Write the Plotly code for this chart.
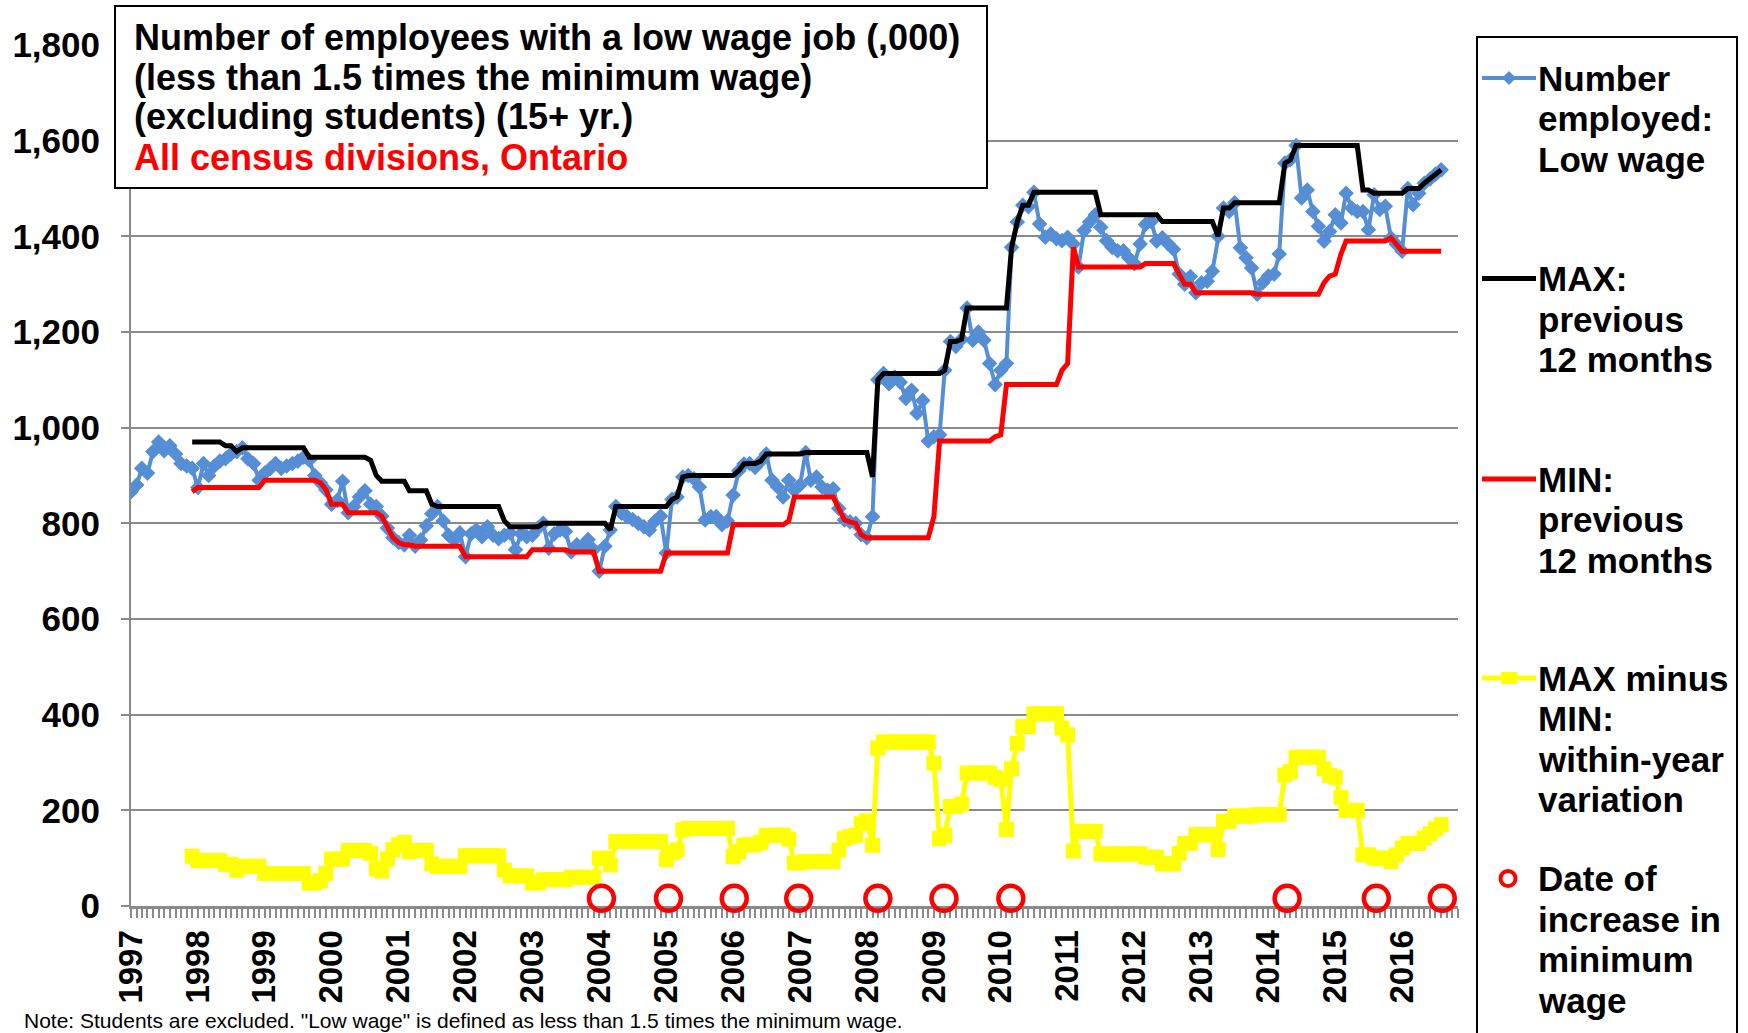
import pandas as pd
import plotly.graph_objects as go

# ---------------- data (monthly, Jan 1997 .. Aug 2016), thousands ----------------
low_wage = [
    866, 880, 915, 905, 950, 970, 952, 962, 945, 925, 920, 915,            # 1997
    875, 925, 900, 920, 930, 935, 945, 950, 958, 935, 925, 890,            # 1998
    905, 915, 925, 915, 920, 925, 930, 938, 932, 900, 885, 870,            # 1999
    840, 848, 888, 822, 835, 855, 868, 840, 835, 815, 790, 770,            # 2000
    760, 755, 775, 752, 765, 795, 820, 835, 805, 775, 765, 780,            # 2001
    730, 778, 786, 772, 793, 775, 768, 775, 780, 745, 778, 772,            # 2002
    775, 790, 800, 748, 778, 786, 783, 740, 755, 752, 766, 745,            # 2003
    700, 752, 786, 835, 821, 814, 808, 800, 793, 786, 805, 815,            # 2004
    738, 850, 855, 897, 900, 893, 876, 807, 814, 814, 797, 805,            # 2005
    859, 910, 924, 925, 917, 930, 945, 890, 876, 855, 890, 869,            # 2006
    880, 948, 890, 897, 876, 869, 872, 831, 807, 803, 800, 776,            # 2007
    770, 814, 1100, 1113, 1092, 1106, 1095, 1061, 1078, 1030, 1057, 972,   # 2008
    981, 985, 1120, 1180, 1170, 1185, 1250, 1183, 1200, 1183, 1134, 1090,  # 2009
    1120, 1134, 1377, 1430, 1465, 1462, 1492, 1426, 1398, 1405, 1395, 1391,  # 2010
    1398, 1384, 1336, 1412, 1430, 1445, 1419, 1391, 1377, 1370, 1370, 1355,  # 2011
    1343, 1384, 1425, 1431, 1390, 1397, 1385, 1373, 1321, 1300, 1316, 1282,  # 2012
    1303, 1306, 1327, 1400, 1459, 1452, 1470, 1376, 1355, 1334, 1279, 1303,  # 2013
    1317, 1321, 1363, 1553, 1560, 1590, 1480, 1497, 1452, 1421, 1390, 1410,  # 2014
    1445, 1428, 1490, 1459, 1452, 1452, 1414, 1487, 1456, 1463, 1397, 1383,  # 2015
    1369, 1500, 1466, 1490, 1511, 1520, 1530, 1539,                          # 2016
]

max_prev_12 = (
    [None] * 11 + [970]                                                     # 1997
    + [970, 970, 970, 970, 970, 962, 962, 950, 958, 958, 958, 958]          # 1998
    + [958] * 8 + [938] * 4                                                 # 1999
    + [938] * 7 + [932, 900, 888, 888, 888]                                 # 2000
    + [888, 888, 868, 868, 868, 868, 840] + [835] * 5                       # 2001
    + [835] * 7 + [805] + [793] * 4                                         # 2002
    + [793, 793] + [800] * 10                                               # 2003
    + [800, 800, 786] + [835] * 9                                           # 2004
    + [835, 850, 855, 897] + [900] * 8                                      # 2005
    + [900, 910, 924, 925, 925, 930] + [945] * 6                            # 2006
    + [945] + [948] * 11                                                    # 2007
    + [948, 897, 1100] + [1113] * 9                                         # 2008
    + [1113, 1113, 1120, 1180, 1180, 1185] + [1250] * 6                     # 2009
    + [1250, 1250, 1377, 1430, 1465, 1465] + [1492] * 6                     # 2010
    + [1492] * 6 + [1445] * 6                                               # 2011
    + [1445] * 5 + [1431] * 7                                               # 2012
    + [1431] * 3 + [1400, 1459, 1459] + [1470] * 6                          # 2013
    + [1470] * 3 + [1553, 1560] + [1590] * 7                                # 2014
    + [1590] * 5 + [1497, 1497] + [1490] * 5                                # 2015
    + [1490, 1500, 1500, 1500, 1511, 1520, 1530, 1539]                      # 2016
)

min_prev_12 = (
    [None] * 11 + [866]                                                     # 1997
    + [875] * 12                                                            # 1998
    + [890] * 10 + [885, 870]                                               # 1999
    + [840] * 3 + [822] * 6 + [815, 790, 770]                               # 2000
    + [760, 755, 755] + [752] * 9                                           # 2001
    + [730] * 12                                                            # 2002
    + [745] * 7 + [740] * 5                                                 # 2003
    + [700] * 12                                                            # 2004
    + [738] * 12                                                            # 2005
    + [797] * 10 + [805, 855]                                               # 2006
    + [855] * 7 + [831, 807, 803, 800, 776]                                 # 2007
    + [770] * 12                                                            # 2008
    + [814] + [972] * 10 + [981]                                            # 2009
    + [985] + [1090] * 10 + [1120]                                          # 2010
    + [1134, 1377] + [1336] * 10                                            # 2011
    + [1336, 1336] + [1343] * 6 + [1321, 1300, 1300, 1282]                  # 2012
    + [1282] * 10 + [1279, 1279]                                            # 2013
    + [1279] * 10 + [1303, 1317]                                            # 2014
    + [1321, 1363] + [1390] * 8 + [1397, 1383]                              # 2015
    + [1369] * 8                                                            # 2016
)

max_minus_min = (
    [None] * 11 + [104]                                                     # 1997
    + [95] * 5 + [87, 87, 75] + [83] * 4                                    # 1998
    + [68] * 8 + [48, 48, 53, 68]                                           # 1999
    + [98] * 3 + [116] * 4 + [110, 78, 73, 98, 118]                         # 2000
    + [128, 133, 113, 116, 116, 116, 88] + [83] * 5                         # 2001
    + [105] * 7 + [75] + [63] * 4                                           # 2002
    + [48, 48] + [55] * 5 + [60] * 5                                        # 2003
    + [100, 100, 86] + [135] * 9                                            # 2004
    + [97, 112, 117, 159] + [162] * 8                                       # 2005
    + [103, 113, 127, 128, 128, 133] + [148] * 4 + [140, 90]                # 2006
    + [90] + [93] * 6 + [117, 141, 145, 148, 172]                           # 2007
    + [178, 127, 330] + [343] * 9                                           # 2008
    + [299, 141, 148, 208, 208, 213] + [278] * 5 + [269]                    # 2009
    + [265, 160, 287, 340, 375, 375] + [402] * 5 + [372]                    # 2010
    + [358, 115] + [156] * 4 + [109] * 6                                    # 2011
    + [109, 109] + [102] * 3 + [88] * 3 + [110, 131, 131, 149]              # 2012
    + [149] * 3 + [118, 177, 177] + [188] * 4 + [191, 191]                  # 2013
    + [191] * 3 + [274, 281] + [311] * 5 + [287, 273]                       # 2014
    + [269, 227, 200, 200, 200, 107, 107, 100, 100, 100, 93, 107]           # 2015
    + [121, 131, 131, 131, 142, 151, 161, 170]                              # 2016
)

# dates of minimum-wage increases (as placed on the chart) and marker level
wage_increase_dates = ["2004-01-13", "2005-01-13", "2006-01-07", "2006-12-25",
                       "2008-03-01", "2009-02-25", "2010-02-25", "2014-04-13",
                       "2015-08-13", "2016-08-07"]
wage_increase_level = [16, 16, 16, 16, 16, 16, 16, 16, 16, 16]

assert len(low_wage) == len(max_prev_12) == len(min_prev_12) == len(max_minus_min) == 236

months = pd.date_range("1997-01-01", periods=len(low_wage), freq="MS")

series_names = ["Number employed: Low wage", "MAX: previous 12 months",
                "MIN: previous 12 months", "MAX minus MIN: within-year variation",
                "Date of increase in minimum wage"]

title_lines = ["Number of employees with a low wage job (,000)",
               "(less than 1.5 times the minimum wage)",
               "(excluding students) (15+ yr.)",
               "All census divisions, Ontario"]

legend_lines = [["Number", "employed:", "Low wage"],
                ["MAX:", "previous", "12 months"],
                ["MIN:", "previous", "12 months"],
                ["MAX minus", "MIN:", "within-year", "variation"],
                ["Date of", "increase in", "minimum", "wage"]]

note_text = 'Note: Students are excluded. "Low wage" is defined as less than 1.5 times the minimum wage.'

# ---------------- styling ----------------
BLUE = "#558ED5"
RED = "#FF0000"
YELLOW = "#FFFF00"
GRID = "#8A8A8A"
FONT = "Liberation Sans"

W, H = 1748, 1033
L, R, T, B = 131, 1458, 45, 906   # plot area in pixels


def fx(p):
    return (p - L) / (R - L)


def fy(p):
    return (B - p) / (B - T)


fig = go.Figure()
fig.add_trace(go.Scatter(x=months, y=low_wage, name=series_names[0], mode="lines+markers",
                         line=dict(color=BLUE, width=4),
                         marker=dict(symbol="diamond", size=12, color=BLUE)))
fig.add_trace(go.Scatter(x=months, y=max_prev_12, name=series_names[1], mode="lines",
                         line=dict(color="black", width=5)))
fig.add_trace(go.Scatter(x=months, y=min_prev_12, name=series_names[2], mode="lines",
                         line=dict(color=RED, width=5)))
fig.add_trace(go.Scatter(x=months, y=max_minus_min, name=series_names[3], mode="lines+markers",
                         line=dict(color=YELLOW, width=5),
                         marker=dict(symbol="square", size=15, color=YELLOW)))
fig.add_trace(go.Scatter(x=wage_increase_dates, y=wage_increase_level, name=series_names[4],
                         mode="markers", cliponaxis=False,
                         marker=dict(symbol="circle-open", size=25, color=RED,
                                     line=dict(color=RED, width=4.5))))

shapes = []
annotations = []

# title box
shapes.append(dict(type="rect", xref="paper", yref="paper", layer="above",
                   x0=fx(115), x1=fx(987), y0=fy(188), y1=fy(6),
                   line=dict(color="black", width=2), fillcolor="white"))
title_y = [37, 77, 117, 157]
for i, (txt, yc) in enumerate(zip(title_lines, title_y)):
    annotations.append(dict(text=txt, xref="paper", yref="paper", x=fx(132), y=fy(yc),
                            xanchor="left", yanchor="middle", showarrow=False,
                            font=dict(family=FONT, size=36, weight="bold",
                                      color=RED if i == 3 else "black")))

# legend box
shapes.append(dict(type="rect", xref="paper", yref="paper", layer="above",
                   x0=fx(1477), x1=fx(1737), y0=fy(1070), y1=fy(37),
                   line=dict(color="black", width=2), fillcolor="white"))
entry_top = [78, 278.5, 479, 678, 878.5]
line_gap = 40.5
sample_colors = [BLUE, "black", RED, YELLOW]
sample_widths = [4, 5, 5, 5]
for k in range(4):
    yc = entry_top[k]
    shapes.append(dict(type="line", xref="paper", yref="paper", layer="above",
                       x0=fx(1482), x1=fx(1536), y0=fy(yc), y1=fy(yc),
                       line=dict(color=sample_colors[k], width=sample_widths[k])))
# diamond marker in legend
shapes.append(dict(type="path", xref="paper", yref="paper", layer="above",
                   xsizemode="pixel", ysizemode="pixel", xanchor=fx(1509), yanchor=fy(entry_top[0]),
                   path="M-7,0L0,7L7,0L0,-7Z", fillcolor=BLUE, line=dict(width=0)))
# square marker in legend
shapes.append(dict(type="rect", xref="paper", yref="paper", layer="above",
                   xsizemode="pixel", ysizemode="pixel", xanchor=fx(1509), yanchor=fy(entry_top[3]),
                   x0=-8, x1=8, y0=-6, y1=6, fillcolor=YELLOW, line=dict(width=0)))
# open circle in legend
shapes.append(dict(type="circle", xref="paper", yref="paper", layer="above",
                   xsizemode="pixel", ysizemode="pixel", xanchor=fx(1508), yanchor=fy(entry_top[4]),
                   x0=-7.5, x1=7.5, y0=-7.5, y1=7.5, line=dict(color=RED, width=4)))
for k, lines in enumerate(legend_lines):
    for j, txt in enumerate(lines):
        annotations.append(dict(text=txt, xref="paper", yref="paper", x=fx(1536),
                                y=fy(entry_top[k] + j * line_gap),
                                xanchor="left", yanchor="middle", showarrow=False,
                                font=dict(family=FONT, size=35, weight="bold", color="black")))

# footnote at the bottom edge
annotations.append(dict(text=note_text, xref="paper", yref="paper", x=fx(22), y=fy(1034),
                        xanchor="left", yanchor="bottom", showarrow=False,
                        font=dict(family=FONT, size=21, color="black")))

fig.update_layout(
    width=W, height=H,
    margin=dict(l=L, r=W - R, t=T, b=H - B, autoexpand=False),
    paper_bgcolor="white", plot_bgcolor="white",
    showlegend=False, hovermode=False,
    shapes=shapes, annotations=annotations,
    font=dict(family=FONT, color="black"),
)
fig.update_xaxes(
    type="date", range=["1997-01-01", "2016-11-01"],
    tick0="1997-01-01", dtick="M12", tickformat="%Y", tickangle=-90,
    tickfont=dict(family=FONT, size=33, weight="bold", color="black"),
    ticks="outside", ticklen=9, tickwidth=1.5, tickcolor=GRID,
    ticklabelstandoff=-1,
    minor=dict(dtick="M1", tick0="1997-01-01", ticks="outside", ticklen=9,
               tickwidth=1.5, tickcolor=GRID, showgrid=False),
    showline=True, linecolor=GRID, linewidth=3, showgrid=False, zeroline=False,
    layer="below traces",
)
fig.update_yaxes(
    range=[0, 1800], dtick=200, tick0=0, tickformat=",d",
    tickfont=dict(family=FONT, size=35, weight="bold", color="black"),
    ticks="outside", ticklen=8, tickwidth=2, tickcolor=GRID,
    ticklabelstandoff=14,
    showgrid=True, gridcolor=GRID, gridwidth=2,
    showline=True, linecolor=GRID, linewidth=2, zeroline=False,
    layer="below traces",
)

fig.write_html("out.html", config={"displayModeBar": False},
               post_script="document.body.style.margin='0px';document.body.style.overflow='hidden';")
